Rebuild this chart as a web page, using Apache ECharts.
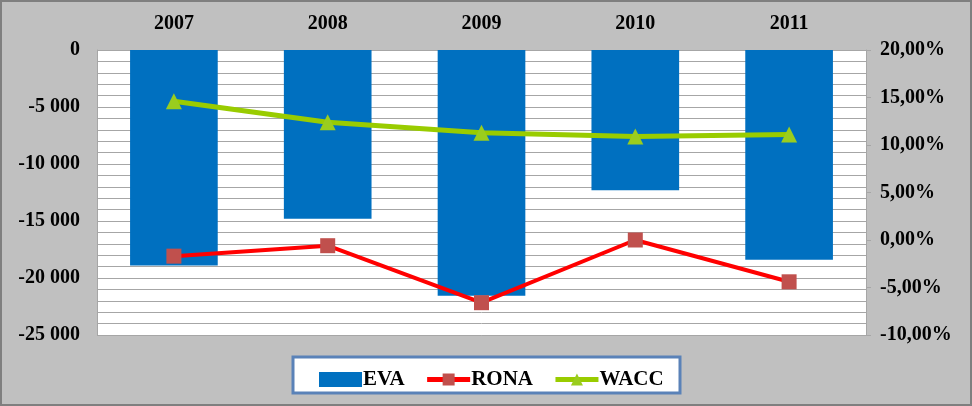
<!DOCTYPE html>
<html><head><meta charset="utf-8">
<script src="https://cdn.jsdelivr.net/npm/echarts@6/dist/echarts.min.js"></script>
<style>html,body{margin:0;padding:0;background:#c0c0c0}#c{width:972px;height:406px}</style>
</head><body><div id="c"></div>
<script>
const years = ['2007','2008','2009','2010','2011'];
const eva = [-18900, -14800, -21550, -12300, -18400];
const rona = [-1.7, -0.6, -6.6, 0.0, -4.4];
const wacc = [14.6, 12.4, 11.3, 10.9, 11.1];
const leftTicks = {min:-25000, max:0, interval:5000};
const rightTicks = {min:-10, max:20, interval:5};

const font = 'Liberation Serif';
const chart = echarts.init(document.getElementById('c'));
function fmtThousands(v){
  const s = Math.abs(v).toString().replace(/\B(?=(\d{3})+(?!\d))/g,' ');
  return (v<0?'-':'')+s;
}
chart.setOption({
  backgroundColor:'#c0c0c0',
  animation:false,
  graphic:[
    {type:'rect',shape:{x:1,y:1,width:970,height:404},style:{fill:'none',stroke:'#7f7f7f',lineWidth:2},z:-1},
    {type:'rect',shape:{x:293,y:357,width:387,height:36},style:{fill:'#ffffff',stroke:'#5a82b8',lineWidth:3},z:-1}
  ],
  grid:{left:97,right:106,top:50,bottom:71,show:true,backgroundColor:'#ffffff',borderWidth:0},
  legend:{
    left:314,top:364,itemWidth:43,itemHeight:15,itemGap:20,
    textStyle:{fontFamily:font,fontWeight:'bold',fontSize:21,color:'#000',padding:[0,0,0,-4]},
    lineStyle:{width:5},
    data:[{name:'EVA',icon:'rect'},'RONA','WACC']
  },
  xAxis:{type:'category',position:'top',data:years,
    axisLine:{show:false},axisTick:{show:false},
    axisLabel:{margin:16,fontFamily:font,fontWeight:'bold',fontSize:20,color:'#000'}},
  yAxis:[
    {type:'value',min:leftTicks.min,max:leftTicks.max,interval:leftTicks.interval,
     axisLine:{show:true,lineStyle:{color:'#a6a6a6'}},axisTick:{show:false},
     axisLabel:{margin:17,fontFamily:font,fontWeight:'bold',fontSize:20,color:'#000',formatter:fmtThousands},
     splitLine:{show:true,lineStyle:{color:'#a6a6a6',width:1}},
     minorTick:{show:false,splitNumber:5},
     minorSplitLine:{show:true,lineStyle:{color:'#a6a6a6',width:1}}},
    {type:'value',position:'right',min:rightTicks.min,max:rightTicks.max,interval:rightTicks.interval,
     axisLine:{show:true,lineStyle:{color:'#a6a6a6'}},axisTick:{show:true,length:5,lineStyle:{color:'#a6a6a6'}},
     axisLabel:{margin:14,fontFamily:font,fontWeight:'bold',fontSize:20,color:'#000',
       formatter:v=>v.toFixed(2).replace('.',',')+'%'},
     splitLine:{show:false}}
  ],
  series:[
    {name:'EVA',type:'bar',data:eva,barWidth:'57%',itemStyle:{color:'#0070c0'}},
    {name:'RONA',type:'line',yAxisIndex:1,data:rona,symbol:'rect',symbolSize:15,
     lineStyle:{color:'#ff0000',width:4},itemStyle:{color:'#c0504d'},z:3},
    {name:'WACC',type:'line',yAxisIndex:1,data:wacc,symbol:'triangle',symbolSize:16,
     lineStyle:{color:'#99cc00',width:5},itemStyle:{color:'#9acd1e'},z:3}
  ]
});
</script></body></html>
